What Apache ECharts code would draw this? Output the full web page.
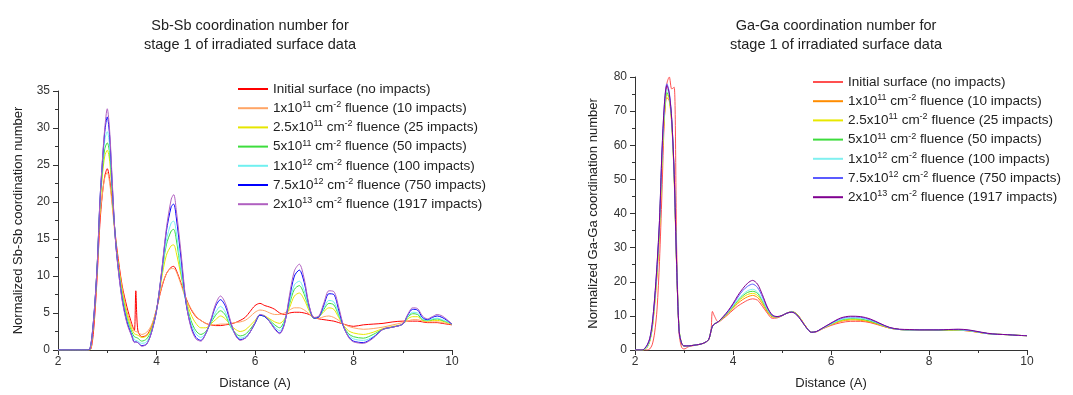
<!DOCTYPE html>
<html>
<head>
<meta charset="utf-8">
<script src="https://cdn.jsdelivr.net/npm/echarts@6/dist/echarts.min.js"></script>
<style>
html, body { margin: 0; padding: 0; background: #fff; }
#main { width: 1073px; height: 395px; }
</style>
</head>
<body>
<div id="main"></div>
<script>
// legend texts (sup in rich text)
var legendNames = [
    'Initial surface (no impacts)',
    '1x10{s|11} cm{s|-2} fluence (10 impacts)',
    '2.5x10{s|11} cm{s|-2} fluence (25 impacts)',
    '5x10{s|11} cm{s|-2} fluence (50 impacts)',
    '1x10{s|12} cm{s|-2} fluence (100 impacts)',
    '7.5x10{s|12} cm{s|-2} fluence (750 impacts)',
    '2x10{s|13} cm{s|-2} fluence (1917 impacts)'
];
var xTicks = [2, 4, 6, 8, 10];

// Sb-Sb
var sbX = [2.0, 2.6, 2.65, 2.7, 2.75, 2.8, 2.85, 2.9, 2.95, 3.0,
    3.05, 3.1, 3.15, 3.2, 3.3, 3.4, 3.5, 3.55, 3.58, 3.62,
    3.7, 3.8, 3.9, 4.0, 4.1, 4.2, 4.3, 4.35, 4.4, 4.5,
    4.6, 4.7, 4.8, 4.9, 5.0, 5.1, 5.2, 5.3, 5.4, 5.5,
    5.6, 5.7, 5.8, 5.9, 6.0, 6.1, 6.2, 6.3, 6.4, 6.5,
    6.6, 6.7, 6.8, 6.9, 7.0, 7.1, 7.2, 7.3, 7.4, 7.5,
    7.6, 7.7, 7.8, 7.9, 8.0, 8.2, 8.4, 8.6, 8.8, 9.0,
    9.1, 9.2, 9.3, 9.4, 9.5, 9.6, 9.7, 9.8, 9.9, 10.0];
var sbRed = [0,0,0,1.2,5,10.5,17,21,23.5,24.5,
    23,20,16.5,13.5,8.8,5.8,3.5,2.6,8.0,2.7,
    1.8,2.0,3.2,5.5,8.3,10.3,11.2,11.3,10.8,9,
    7,5.5,4.5,4,3.6,3.4,3.3,3.3,3.4,3.5,
    3.7,4.0,4.4,5.2,6.0,6.3,6.0,5.8,5.5,5.0,
    4.8,5.0,5.1,5.1,5.0,4.8,4.4,4.2,4.1,4.0,
    3.9,3.7,3.5,3.3,3.2,3.4,3.5,3.6,3.8,3.9,
    3.9,3.9,3.9,3.8,3.7,3.7,3.7,3.6,3.5,3.4];
var sbOrange = [0,0,0,2,6,11.5,18,21,23.3,24,
    22.5,19.5,16,12.8,8.5,5.2,3.2,2.6,2.5,2.4,
    2.1,2.4,3.4,5.5,8.5,10.3,11,11,10.6,8.8,
    6.8,5.6,4.6,4,3.6,3.4,3.4,3.5,3.5,3.6,
    3.7,3.8,4.0,4.5,5.1,5.4,5.3,5.0,4.8,4.8,
    5.0,5.4,5.7,5.7,5.4,4.9,4.3,4.3,4.5,4.6,
    4.4,4.0,3.5,3.2,3.0,2.8,2.9,3.1,3.4,3.7,
    3.9,4.1,4.1,3.9,3.8,3.8,3.8,3.7,3.6,3.5];
var sbYellow = [0,0,0.1,2.2,6.2,11.8,19,23.5,26.2,27,
    25.5,21,16.5,12.8,8,4.8,2.8,2.2,2.1,2.0,
    1.7,1.9,3.0,5.4,9.5,12.8,14.1,14.2,13.2,10,
    6.8,4.8,3.6,3.0,3.0,3.5,4.1,4.6,4.2,3.4,
    2.8,2.5,2.7,3.3,4.0,4.7,4.6,4.2,3.8,3.6,
    4.2,5.7,7.3,7.7,6.8,5.3,4.3,4.5,5.2,5.7,
    5.5,4.4,3.3,2.6,2.3,2.1,2.4,2.9,3.2,3.5,
    4.2,4.5,4.5,4.0,3.9,4.0,4.0,3.9,3.7,3.5];
var sbGreen = [0,0,0.1,2.3,6.3,12,19.5,24.2,27.2,28,
    26.5,21.5,16.5,12.6,7.6,4.3,2.4,1.8,1.7,1.6,
    1.2,1.5,2.7,5.3,10,14.2,16.1,16.3,15,10.5,
    6.5,4,2.6,2.1,2.5,3.6,4.7,5.3,4.7,3.2,
    2.3,1.9,2.1,2.8,3.7,4.7,4.5,4.0,3.4,3.0,
    4.0,6.2,8.2,8.7,7.5,5.6,4.3,4.5,5.5,6.3,
    6.1,4.7,3.2,2.2,1.8,1.6,2.1,2.8,3.1,3.5,
    4.4,4.9,4.8,4.1,4.0,4.1,4.2,4.0,3.8,3.5];
var sbCyan = [0,0,0.1,2.4,6.4,12,19.8,24.8,28.4,29.5,
    27.5,22,16.5,12.5,7.3,4,2.1,1.4,1.3,1.2,
    0.9,1.1,2.5,5.3,10,14.8,17.2,17.4,16,10.8,
    6.3,3.6,2.2,1.7,2.3,3.7,5.1,5.9,5.1,3.3,
    2.1,1.6,1.8,2.5,3.6,4.7,4.5,3.9,3.1,2.6,
    3.8,6.5,8.8,9.3,8.0,5.7,4.3,4.5,5.7,6.7,
    6.5,4.9,3.1,2.0,1.5,1.3,1.8,2.8,3.1,3.5,
    4.5,5.1,5.0,4.2,4.0,4.2,4.3,4.1,3.8,3.5];
var sbBlue = [0,0,0.2,2.5,6.5,12,20,25.3,29.5,31.5,
    28.8,22.5,16.5,12.4,7,3.8,1.9,1.1,1.1,1.0,
    0.6,0.8,2.4,5.3,10.3,16,19.4,19.7,18,12.3,
    6.3,3.2,1.7,1.3,2.2,3.9,5.9,6.8,5.9,3.8,
    2.1,1.4,1.6,2.4,3.6,4.7,4.5,3.8,2.9,2.3,
    3.6,7.0,10.0,10.8,9.1,5.9,4.3,4.5,6.1,7.6,
    7.5,5.4,3.1,1.8,1.2,1.0,1.7,2.8,3.1,3.5,
    4.7,5.5,5.4,4.4,4.1,4.4,4.6,4.4,4.0,3.5];
var sbPurple = [0,0,0.2,2.5,6.5,12,20,25.5,30,32.6,
    29.5,23,16.5,12.3,6.8,3.6,1.8,1.0,1.1,1.0,
    0.5,0.8,2.4,5.3,10.4,16.4,20.4,21,19,13,
    6.5,3.0,1.5,1.2,2.2,4.0,6.2,7.3,6.3,4.0,
    2.0,1.3,1.6,2.4,3.7,4.8,4.6,3.8,2.8,2.2,
    3.5,7.4,10.7,11.6,9.6,6.0,4.4,4.6,6.4,8.0,
    7.9,5.8,3.2,1.7,1.1,0.9,1.6,2.8,3.1,3.5,
    4.8,5.7,5.6,4.6,4.2,4.5,4.8,4.6,4.1,3.5];

// Ga-Ga
var gaX = [2.0, 2.15, 2.2, 2.25, 2.3, 2.35, 2.4, 2.45, 2.5, 2.55,
    2.6, 2.65, 2.7, 2.75, 2.8, 2.85, 2.9, 2.95, 3.0, 3.1,
    3.2, 3.3, 3.4, 3.5, 3.55, 3.58, 3.62, 3.7, 3.8, 3.9,
    4.0, 4.1, 4.2, 4.3, 4.4, 4.5, 4.6, 4.7, 4.8, 4.9,
    5.0, 5.1, 5.2, 5.3, 5.4, 5.5, 5.6, 5.7, 5.8, 6.0,
    6.2, 6.4, 6.6, 6.8, 7.0, 7.2, 7.4, 7.6, 7.8, 8.0,
    8.2, 8.4, 8.6, 8.8, 9.0, 9.2, 9.4, 9.6, 9.8, 10.0];
var gaRed = [0,0,0,0,0.3,1.5,5,12,26,46,
    68,78,80,76.5,77,30,5,0.8,0.3,1.0,
    1.3,1.6,2.0,3.0,5.5,11.3,10,8.2,9.2,10.4,
    11.7,12.9,13.8,14.6,15.0,14.6,12.8,10.8,9.3,9.4,
    10.0,10.8,11.3,10.6,8.8,6.6,5.2,5.3,6.0,7.2,
    8.0,8.4,8.4,8.0,7.2,6.4,6.0,5.9,5.9,5.8,
    5.8,5.9,5.8,5.6,5.2,4.8,4.6,4.5,4.3,4.2];
var gaOrange = [0,0,0.2,0.8,2.5,6,13,22,35,54,
    68,74,73,66,50,24,6,2,1.2,1.2,
    1.4,1.6,2.0,3.0,5.5,7,7.6,8.3,9.4,10.7,
    12.2,13.7,14.8,15.6,16.0,15.4,13.5,11.2,9.7,9.6,
    10.1,10.8,11.2,10.5,8.7,6.6,5.2,5.4,6.1,7.4,
    8.4,8.8,8.7,8.2,7.3,6.4,6.0,5.9,5.9,5.8,
    5.8,5.9,5.8,5.6,5.2,4.8,4.6,4.5,4.3,4.2];
var gaYellow = [0,0,0.2,0.9,2.6,6.2,13.5,23,36,55,
    69,75,73.5,66.5,50.5,24.5,6,2,1.2,1.2,
    1.4,1.6,2.0,3.0,5.5,7,7.6,8.3,9.5,10.9,
    12.5,14.2,15.4,16.3,16.6,16.0,14.0,11.5,9.9,9.7,
    10.1,10.8,11.2,10.5,8.7,6.6,5.2,5.4,6.1,7.5,
    8.6,9.0,8.9,8.4,7.4,6.4,6.0,5.9,5.9,5.8,
    5.8,5.9,5.9,5.7,5.2,4.8,4.6,4.5,4.3,4.2];
var gaGreen = [0,0,0.2,1,2.7,6.5,14,23.5,36.5,56,
    70,75.5,74,67,51,25,6,2,1.2,1.2,
    1.4,1.6,2.0,3.0,5.5,7,7.6,8.3,9.5,11.0,
    12.7,14.5,15.9,16.9,17.2,16.6,14.4,11.7,10.0,9.7,
    10.1,10.8,11.2,10.5,8.6,6.5,5.2,5.4,6.1,7.6,
    8.8,9.2,9.1,8.5,7.5,6.5,6.0,5.9,5.9,5.9,
    5.8,5.9,5.9,5.7,5.3,4.8,4.6,4.5,4.3,4.2];
var gaCyan = [0,0,0.3,1,2.8,6.6,14,24,37,56,
    70,76.5,74.5,67,51,25,6,2,1.2,1.2,
    1.4,1.6,2.0,3.0,5.5,7,7.6,8.3,9.6,11.1,
    12.9,14.8,16.3,17.4,17.8,17.0,14.7,11.9,10.1,9.7,
    10.1,10.8,11.2,10.4,8.6,6.5,5.2,5.4,6.1,7.6,
    8.9,9.4,9.3,8.7,7.6,6.5,6.0,5.9,5.9,5.9,
    5.9,6.0,5.9,5.7,5.3,4.8,4.6,4.5,4.3,4.2];
var gaBlue = [0,0,0.5,1.5,3.3,7.5,15,25,38,58,
    72,78,75.5,67.5,51.5,25,5.5,2,1.2,1.2,
    1.4,1.6,2.0,3.0,5.5,7,7.6,8.3,9.7,11.3,
    13.3,15.5,17.4,18.7,19.3,18.3,15.6,12.3,10.2,9.7,
    10.1,10.8,11.1,10.3,8.5,6.5,5.2,5.4,6.2,7.8,
    9.2,9.7,9.6,8.9,7.7,6.5,6.0,5.9,5.9,5.9,
    5.9,6.0,6.0,5.8,5.3,4.8,4.6,4.5,4.3,4.2];
var gaPurple = [0,0,0.5,1.5,3.3,7.5,15,25,38,58,
    72,77.5,75,67.5,51.5,25,5.5,2,1.2,1.2,
    1.4,1.6,2.0,3.0,5.5,7,7.6,8.3,9.8,11.5,
    13.6,16.0,18.0,19.6,20.4,19.3,16.2,12.6,10.3,9.8,
    10.1,10.8,11.1,10.3,8.5,6.5,5.2,5.4,6.2,7.9,
    9.4,9.9,9.8,9.1,7.8,6.6,6.1,6.0,5.9,5.9,
    5.9,6.0,6.1,5.9,5.4,4.9,4.6,4.5,4.3,4.2];

var sbColors = ['#ff0000', '#ffa566', '#e6e600', '#3ddd3d', '#70f0f0', '#0000ff', '#b060c0'];
var gaColors = ['#ff5050', '#ff8c00', '#e8e800', '#3ddc3d', '#80f0f0', '#5b5bff', '#800090'];

var sbSets = [sbRed, sbOrange, sbYellow, sbGreen, sbCyan, sbBlue, sbPurple];
var gaSets = [gaRed, gaOrange, gaYellow, gaGreen, gaCyan, gaBlue, gaPurple];

var FONT = 'Liberation Sans, Arial, sans-serif';

function pairs(xs, ys) {
    var out = [];
    for (var i = 0; i < xs.length; i++) out.push([xs[i], ys[i]]);
    return out;
}

var labelMap = {};
var series = [];
var sbLegend = [], gaLegend = [];
for (var i = 0; i < 7; i++) {
    labelMap['sb' + i] = legendNames[i];
    labelMap['ga' + i] = legendNames[i];
    sbLegend.push('sb' + i);
    gaLegend.push('ga' + i);
    series.push({
        name: 'sb' + i, type: 'line', xAxisIndex: 0, yAxisIndex: 0,
        data: pairs(sbX, sbSets[i]), symbol: 'none', smooth: 0.3,
        lineStyle: { width: 1, color: sbColors[i] }, itemStyle: { color: sbColors[i] }
    });
}
for (var j = 0; j < 7; j++) {
    series.push({
        name: 'ga' + j, type: 'line', xAxisIndex: 1, yAxisIndex: 1,
        data: pairs(gaX, gaSets[j]), symbol: 'none', smooth: 0.3,
        lineStyle: { width: 1, color: gaColors[j] }, itemStyle: { color: gaColors[j] }
    });
}

function legendCfg(data, left, top) {
    return {
        data: data, orient: 'vertical', left: left, top: top,
        icon: 'rect', itemWidth: 30, itemHeight: 2, itemGap: 3.2,
        selectedMode: false,
        formatter: function (name) { return labelMap[name]; },
        textStyle: {
            fontFamily: FONT, fontSize: 13.5, color: '#222', lineHeight: 16,
            rich: { s: { fontFamily: FONT, fontSize: 9, color: '#222', verticalAlign: 'top', lineHeight: 9 } }
        }
    };
}

function xAxisCfg(idx) {
    return {
        type: 'value', gridIndex: idx, min: 2, max: 10, interval: 2,
        name: 'Distance (A)', nameLocation: 'middle', nameGap: 27,
        nameTextStyle: { fontFamily: FONT, fontSize: 13, color: '#222' },
        axisLine: { show: true, onZero: false, lineStyle: { color: '#333', width: 1 } },
        axisTick: { show: true, length: 5, lineStyle: { color: '#333' } },
        minorTick: { show: true, splitNumber: 2, length: 3, lineStyle: { color: '#333' } },
        splitLine: { show: false },
        axisLabel: { fontFamily: FONT, fontSize: 12, color: '#333', margin: 6,
            customValues: xTicks }
    };
}

function yAxisCfg(idx, max, interval, name, gap) {
    return {
        type: 'value', gridIndex: idx, min: 0, max: max, interval: interval,
        name: name, nameLocation: 'middle', nameGap: gap,
        nameTextStyle: { fontFamily: FONT, fontSize: 13, color: '#222' },
        axisLine: { show: true, lineStyle: { color: '#333', width: 1 } },
        axisTick: { show: true, length: 5, lineStyle: { color: '#333' } },
        minorTick: { show: true, splitNumber: 2, length: 3, lineStyle: { color: '#333' } },
        splitLine: { show: false },
        axisLabel: { fontFamily: FONT, fontSize: 12, color: '#333', margin: 8 }
    };
}

var option = {
    animation: false,
    backgroundColor: '#fff',
    title: [
        { text: 'Sb-Sb coordination number for\nstage 1 of irradiated surface data',
          left: 245, top: 11, textAlign: 'center',
          textStyle: { fontFamily: FONT, fontSize: 14.5, fontWeight: 'normal', color: '#222', lineHeight: 19.5 } },
        { text: 'Ga-Ga coordination number for\nstage 1 of irradiated surface data',
          left: 831, top: 11, textAlign: 'center',
          textStyle: { fontFamily: FONT, fontSize: 14.5, fontWeight: 'normal', color: '#222', lineHeight: 19.5 } }
    ],
    legend: [legendCfg(sbLegend, 233, 76), legendCfg(gaLegend, 808, 69)],
    grid: [
        { left: 58, top: 91, width: 394, height: 260 },
        { left: 635, top: 77, width: 392, height: 274 }
    ],
    xAxis: [xAxisCfg(0), xAxisCfg(1)],
    yAxis: [
        yAxisCfg(0, 35, 5, 'Normalized Sb-Sb coordination number', 33),
        yAxisCfg(1, 80, 10, 'Normalized Ga-Ga coordination number', 35)
    ],
    series: series
};

var chart = echarts.init(document.getElementById('main'));
chart.setOption(option);
</script>
</body>
</html>
